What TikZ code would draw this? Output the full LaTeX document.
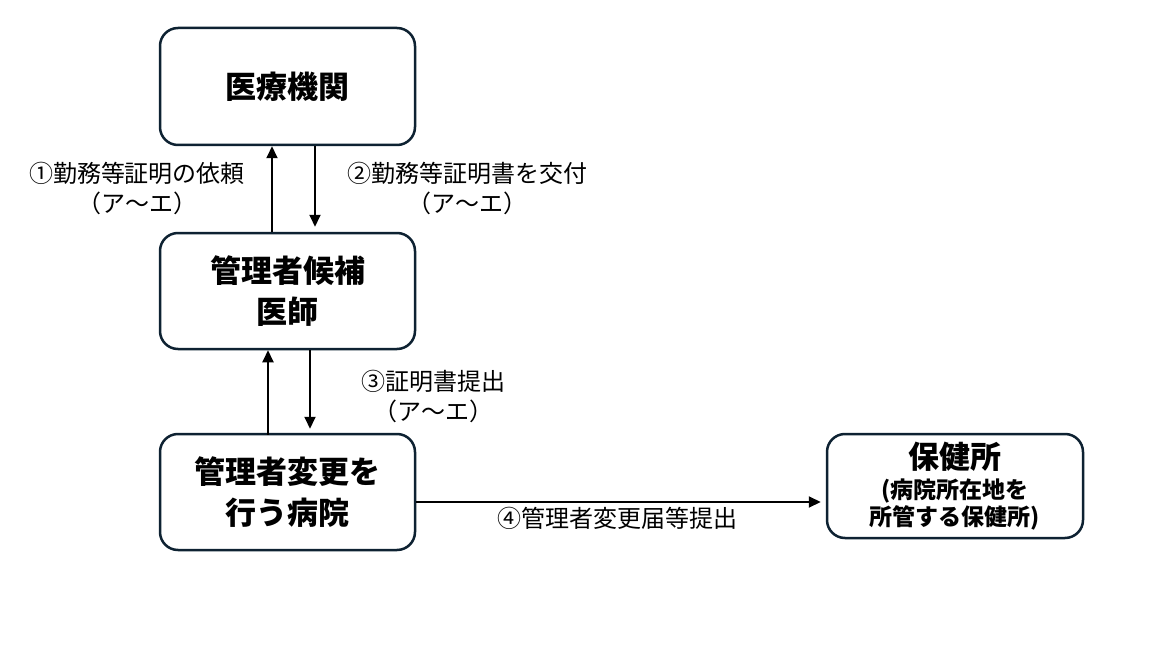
\documentclass[tikz,border=0pt]{standalone}
\usepackage{fontspec}
\setmainfont{Noto Sans CJK JP}
\usetikzlibrary{arrows.meta}
\definecolor{boxline}{RGB}{14,34,50}
\tikzset{
  box/.style={draw=boxline, line width=2.5pt, rounded corners=18pt, fill=white,
    minimum width=255pt, align=center, inner sep=0pt},
  title/.style={font=\fontsize{31}{41}\selectfont\bfseries},
  lbl/.style={font=\fontsize{24}{30}\selectfont, align=center, inner sep=0pt},
  arr/.style={line width=2pt, -{Triangle[length=12pt,width=11pt]}}
}
\begin{document}
\begin{tikzpicture}[x=1pt,y=-1pt]
\path[use as bounding box, fill=white] (0,0) rectangle (1165,650);
\node[box, title, minimum height=117pt] (b1) at (287.5,86.5) {医療機関};
\node[box, title, minimum height=116pt] (b2) at (287.5,291) {管理者候補\\医師};
\node[box, title, minimum height=116pt] (b3) at (287.5,492) {管理者変更を\\行う病院};
\node[box, minimum width=256pt, minimum height=104pt, font=\fontsize{23}{27}\selectfont\bfseries] (b4) at (955,486)
  {{\fontsize{31}{31}\selectfont 保健所}\\[3pt]
   (病院所在地を\\所管する保健所)};
\draw[arr] ([xshift=-15.5pt]b2.north) -- ([xshift=-15.5pt]b1.south);
\draw[arr] ([xshift=27.5pt]b1.south) -- ([xshift=27.5pt,yshift=5pt]b2.north);
\draw[arr] ([xshift=-19.5pt,yshift=-2pt]b3.north) -- ([xshift=-19.5pt]b2.south);
\draw[arr] ([xshift=22.5pt]b2.south) -- ([xshift=22.5pt,yshift=4pt]b3.north);
\draw[arr] ([yshift=-10pt]b3.east) -- ([xshift=-5pt,yshift=-10pt]b3.east -| b4.west);
\node[lbl] (l1) at (137,188) {①勤務等証明の依頼\\（ア～エ）};
\node[lbl] (l2) at (467,188) {②勤務等証明書を交付\\（ア～エ）};
\node[lbl] (l3) at (433,396) {③証明書提出\\（ア～エ）};
\node[lbl] (l4) at (617,518) {④管理者変更届等提出};
\end{tikzpicture}
\end{document}
